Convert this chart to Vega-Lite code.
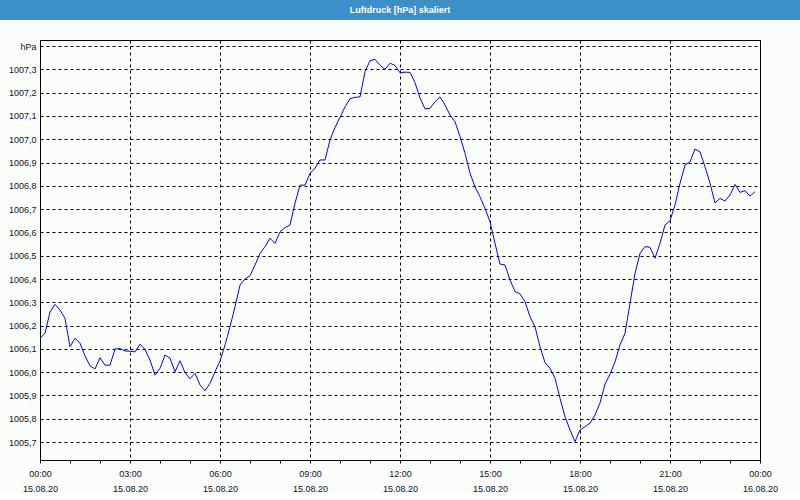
{
  "$schema": "https://vega.github.io/schema/vega-lite/v6.json",
  "background": "#fbfdfb",
  "padding": 0,
  "autosize": {"type": "pad"},
  "columns": 1,
  "spacing": 20,
  "config": {
    "font": "Liberation Sans",
    "view": {"stroke": null}
  },
  "datasets": {
    "druck": [
      {"t": "2020-08-15T00:00", "p": 1006.146},
      {"t": "2020-08-15T00:10", "p": 1006.167},
      {"t": "2020-08-15T00:20", "p": 1006.258},
      {"t": "2020-08-15T00:30", "p": 1006.291},
      {"t": "2020-08-15T00:40", "p": 1006.267},
      {"t": "2020-08-15T00:50", "p": 1006.231},
      {"t": "2020-08-15T01:00", "p": 1006.109},
      {"t": "2020-08-15T01:10", "p": 1006.146},
      {"t": "2020-08-15T01:20", "p": 1006.124},
      {"t": "2020-08-15T01:30", "p": 1006.070},
      {"t": "2020-08-15T01:40", "p": 1006.027},
      {"t": "2020-08-15T01:50", "p": 1006.014},
      {"t": "2020-08-15T02:00", "p": 1006.062},
      {"t": "2020-08-15T02:10", "p": 1006.030},
      {"t": "2020-08-15T02:20", "p": 1006.030},
      {"t": "2020-08-15T02:30", "p": 1006.100},
      {"t": "2020-08-15T02:40", "p": 1006.101},
      {"t": "2020-08-15T02:50", "p": 1006.091},
      {"t": "2020-08-15T03:00", "p": 1006.090},
      {"t": "2020-08-15T03:10", "p": 1006.087},
      {"t": "2020-08-15T03:20", "p": 1006.120},
      {"t": "2020-08-15T03:30", "p": 1006.098},
      {"t": "2020-08-15T03:40", "p": 1006.052},
      {"t": "2020-08-15T03:50", "p": 1005.988},
      {"t": "2020-08-15T04:00", "p": 1006.017},
      {"t": "2020-08-15T04:10", "p": 1006.074},
      {"t": "2020-08-15T04:20", "p": 1006.060},
      {"t": "2020-08-15T04:30", "p": 1006.002},
      {"t": "2020-08-15T04:40", "p": 1006.049},
      {"t": "2020-08-15T04:50", "p": 1005.998},
      {"t": "2020-08-15T05:00", "p": 1005.972},
      {"t": "2020-08-15T05:10", "p": 1005.995},
      {"t": "2020-08-15T05:20", "p": 1005.945},
      {"t": "2020-08-15T05:30", "p": 1005.921},
      {"t": "2020-08-15T05:40", "p": 1005.952},
      {"t": "2020-08-15T05:50", "p": 1006.002},
      {"t": "2020-08-15T06:00", "p": 1006.048},
      {"t": "2020-08-15T06:10", "p": 1006.117},
      {"t": "2020-08-15T06:20", "p": 1006.195},
      {"t": "2020-08-15T06:30", "p": 1006.281},
      {"t": "2020-08-15T06:40", "p": 1006.374},
      {"t": "2020-08-15T06:50", "p": 1006.400},
      {"t": "2020-08-15T07:00", "p": 1006.414},
      {"t": "2020-08-15T07:10", "p": 1006.460},
      {"t": "2020-08-15T07:20", "p": 1006.510},
      {"t": "2020-08-15T07:30", "p": 1006.539},
      {"t": "2020-08-15T07:40", "p": 1006.575},
      {"t": "2020-08-15T07:50", "p": 1006.553},
      {"t": "2020-08-15T08:00", "p": 1006.603},
      {"t": "2020-08-15T08:10", "p": 1006.620},
      {"t": "2020-08-15T08:20", "p": 1006.632},
      {"t": "2020-08-15T08:30", "p": 1006.725},
      {"t": "2020-08-15T08:40", "p": 1006.803},
      {"t": "2020-08-15T08:50", "p": 1006.803},
      {"t": "2020-08-15T09:00", "p": 1006.854},
      {"t": "2020-08-15T09:10", "p": 1006.875},
      {"t": "2020-08-15T09:20", "p": 1006.911},
      {"t": "2020-08-15T09:30", "p": 1006.911},
      {"t": "2020-08-15T09:40", "p": 1006.997},
      {"t": "2020-08-15T09:50", "p": 1007.051},
      {"t": "2020-08-15T10:00", "p": 1007.094},
      {"t": "2020-08-15T10:10", "p": 1007.139},
      {"t": "2020-08-15T10:20", "p": 1007.174},
      {"t": "2020-08-15T10:30", "p": 1007.180},
      {"t": "2020-08-15T10:40", "p": 1007.182},
      {"t": "2020-08-15T10:50", "p": 1007.290},
      {"t": "2020-08-15T11:00", "p": 1007.337},
      {"t": "2020-08-15T11:10", "p": 1007.343},
      {"t": "2020-08-15T11:20", "p": 1007.318},
      {"t": "2020-08-15T11:30", "p": 1007.300},
      {"t": "2020-08-15T11:40", "p": 1007.326},
      {"t": "2020-08-15T11:50", "p": 1007.317},
      {"t": "2020-08-15T12:00", "p": 1007.285},
      {"t": "2020-08-15T12:10", "p": 1007.288},
      {"t": "2020-08-15T12:20", "p": 1007.287},
      {"t": "2020-08-15T12:30", "p": 1007.243},
      {"t": "2020-08-15T12:40", "p": 1007.177},
      {"t": "2020-08-15T12:50", "p": 1007.130},
      {"t": "2020-08-15T13:00", "p": 1007.133},
      {"t": "2020-08-15T13:10", "p": 1007.161},
      {"t": "2020-08-15T13:20", "p": 1007.182},
      {"t": "2020-08-15T13:30", "p": 1007.147},
      {"t": "2020-08-15T13:40", "p": 1007.104},
      {"t": "2020-08-15T13:50", "p": 1007.075},
      {"t": "2020-08-15T14:00", "p": 1007.011},
      {"t": "2020-08-15T14:10", "p": 1006.940},
      {"t": "2020-08-15T14:20", "p": 1006.854},
      {"t": "2020-08-15T14:30", "p": 1006.796},
      {"t": "2020-08-15T14:40", "p": 1006.753},
      {"t": "2020-08-15T14:50", "p": 1006.703},
      {"t": "2020-08-15T15:00", "p": 1006.646},
      {"t": "2020-08-15T15:10", "p": 1006.553},
      {"t": "2020-08-15T15:20", "p": 1006.464},
      {"t": "2020-08-15T15:30", "p": 1006.460},
      {"t": "2020-08-15T15:40", "p": 1006.396},
      {"t": "2020-08-15T15:50", "p": 1006.346},
      {"t": "2020-08-15T16:00", "p": 1006.336},
      {"t": "2020-08-15T16:10", "p": 1006.303},
      {"t": "2020-08-15T16:20", "p": 1006.238},
      {"t": "2020-08-15T16:30", "p": 1006.195},
      {"t": "2020-08-15T16:40", "p": 1006.109},
      {"t": "2020-08-15T16:50", "p": 1006.041},
      {"t": "2020-08-15T17:00", "p": 1006.017},
      {"t": "2020-08-15T17:10", "p": 1005.974},
      {"t": "2020-08-15T17:20", "p": 1005.888},
      {"t": "2020-08-15T17:30", "p": 1005.809},
      {"t": "2020-08-15T17:40", "p": 1005.752},
      {"t": "2020-08-15T17:50", "p": 1005.702},
      {"t": "2020-08-15T18:00", "p": 1005.752},
      {"t": "2020-08-15T18:10", "p": 1005.766},
      {"t": "2020-08-15T18:20", "p": 1005.781},
      {"t": "2020-08-15T18:30", "p": 1005.816},
      {"t": "2020-08-15T18:40", "p": 1005.868},
      {"t": "2020-08-15T18:50", "p": 1005.949},
      {"t": "2020-08-15T19:00", "p": 1005.992},
      {"t": "2020-08-15T19:10", "p": 1006.044},
      {"t": "2020-08-15T19:20", "p": 1006.117},
      {"t": "2020-08-15T19:30", "p": 1006.167},
      {"t": "2020-08-15T19:40", "p": 1006.296},
      {"t": "2020-08-15T19:50", "p": 1006.424},
      {"t": "2020-08-15T20:00", "p": 1006.510},
      {"t": "2020-08-15T20:10", "p": 1006.539},
      {"t": "2020-08-15T20:20", "p": 1006.536},
      {"t": "2020-08-15T20:30", "p": 1006.489},
      {"t": "2020-08-15T20:40", "p": 1006.553},
      {"t": "2020-08-15T20:50", "p": 1006.632},
      {"t": "2020-08-15T21:00", "p": 1006.650},
      {"t": "2020-08-15T21:10", "p": 1006.718},
      {"t": "2020-08-15T21:20", "p": 1006.811},
      {"t": "2020-08-15T21:30", "p": 1006.889},
      {"t": "2020-08-15T21:40", "p": 1006.903},
      {"t": "2020-08-15T21:50", "p": 1006.958},
      {"t": "2020-08-15T22:00", "p": 1006.946},
      {"t": "2020-08-15T22:10", "p": 1006.882},
      {"t": "2020-08-15T22:20", "p": 1006.811},
      {"t": "2020-08-15T22:30", "p": 1006.727},
      {"t": "2020-08-15T22:40", "p": 1006.746},
      {"t": "2020-08-15T22:50", "p": 1006.735},
      {"t": "2020-08-15T23:00", "p": 1006.761},
      {"t": "2020-08-15T23:10", "p": 1006.806},
      {"t": "2020-08-15T23:20", "p": 1006.772},
      {"t": "2020-08-15T23:30", "p": 1006.779},
      {"t": "2020-08-15T23:40", "p": 1006.756},
      {"t": "2020-08-15T23:50", "p": 1006.775}
    ]
  },
  "concat": [
    {
      "width": 800,
      "height": 20,
      "view": {"fill": "#3d8fc7", "stroke": null},
      "data": {"values": [{"title": "Luftdruck [hPa] skaliert"}]},
      "mark": {"type": "text", "color": "white", "font": "Liberation Sans", "fontSize": 9, "fontWeight": "bold"},
      "encoding": {"text": {"field": "title"}}
    },
    {
      "width": 760,
      "height": 420,
      "view": {"stroke": null, "fill": "#fbfdfb"},
      "data": {"name": "druck"},
      "layer": [
        {
          "mark": {"type": "line", "color": "#0000ff", "strokeWidth": 1},
          "encoding": {
            "x": {
              "field": "t",
              "type": "temporal",
              "scale": {"domain": [{"year": 2020, "month": 8, "date": 15, "hours": 0}, {"year": 2020, "month": 8, "date": 16, "hours": 0}], "nice": false, "range": [40, 760]},
              "axis": {
                "title": null,
                "values": [
                  {"year": 2020, "month": 8, "date": 15, "hours": 0},
                  {"year": 2020, "month": 8, "date": 15, "hours": 1},
                  {"year": 2020, "month": 8, "date": 15, "hours": 2},
                  {"year": 2020, "month": 8, "date": 15, "hours": 3},
                  {"year": 2020, "month": 8, "date": 15, "hours": 4},
                  {"year": 2020, "month": 8, "date": 15, "hours": 5},
                  {"year": 2020, "month": 8, "date": 15, "hours": 6},
                  {"year": 2020, "month": 8, "date": 15, "hours": 7},
                  {"year": 2020, "month": 8, "date": 15, "hours": 8},
                  {"year": 2020, "month": 8, "date": 15, "hours": 9},
                  {"year": 2020, "month": 8, "date": 15, "hours": 10},
                  {"year": 2020, "month": 8, "date": 15, "hours": 11},
                  {"year": 2020, "month": 8, "date": 15, "hours": 12},
                  {"year": 2020, "month": 8, "date": 15, "hours": 13},
                  {"year": 2020, "month": 8, "date": 15, "hours": 14},
                  {"year": 2020, "month": 8, "date": 15, "hours": 15},
                  {"year": 2020, "month": 8, "date": 15, "hours": 16},
                  {"year": 2020, "month": 8, "date": 15, "hours": 17},
                  {"year": 2020, "month": 8, "date": 15, "hours": 18},
                  {"year": 2020, "month": 8, "date": 15, "hours": 19},
                  {"year": 2020, "month": 8, "date": 15, "hours": 20},
                  {"year": 2020, "month": 8, "date": 15, "hours": 21},
                  {"year": 2020, "month": 8, "date": 15, "hours": 22},
                  {"year": 2020, "month": 8, "date": 15, "hours": 23},
                  {"year": 2020, "month": 8, "date": 16, "hours": 0}
                ],
                "labelExpr": "hours(datum.value) % 3 == 0 ? [timeFormat(datum.value, '%H:%M'), timeFormat(datum.value, '%d.%m.%y')] : ''",
                "labelFlush": false,
                "labelOverlap": false,
                "labelFont": "Liberation Sans",
                "labelFontSize": 9,
                "labelColor": "#101028",
                "labelPadding": 6,
                "labelBaseline": "top",
                "labelLineHeight": 15,
                "grid": true,
                "gridColor": "black",
                "gridDash": [3, 3],
                "gridWidth": 1,
                "gridOpacity": {"condition": {"test": "hours(datum.value) % 3 === 0", "value": 1}, "value": 0},
                "ticks": true,
                "tickSize": 3,
                "tickColor": "black",
                "domainColor": "black",
                "domainWidth": 1
              }
            },
            "y": {
              "field": "p",
              "type": "quantitative",
              "scale": {"domain": [1005.623, 1007.426], "nice": false, "zero": false},
              "axis": {
                "title": null,
                "offset": -40,
                "values": [1005.7, 1005.8, 1005.9, 1006.0, 1006.1, 1006.2, 1006.3, 1006.4, 1006.5, 1006.6, 1006.7, 1006.8, 1006.9, 1007.0, 1007.1, 1007.2, 1007.3, 1007.4],
                "labelExpr": "datum.value > 1007.35 ? 'hPa' : replace(format(datum.value, '.1f'), '.', ',')",
                "labelFont": "Liberation Sans",
                "labelFontSize": 9,
                "labelColor": "#101028",
                "labelPadding": 4,
                "labelOverlap": false,
                "grid": true,
                "gridColor": "black",
                "gridDash": [3, 3],
                "gridWidth": 1,
                "gridOpacity": 1,
                "ticks": false,
                "domainColor": "black",
                "domainWidth": 1
              }
            }
          }
        },
        {
          "mark": {"type": "line", "strokeOpacity": 0},
          "encoding": {
            "x": {
              "field": "t",
              "type": "temporal",
              "axis": {
                "orient": "top",
                "title": null,
                "labels": false,
                "ticks": false,
                "grid": false,
                "domain": true,
                "domainColor": "black",
                "domainWidth": 1
              }
            },
            "y": {
              "field": "p",
              "type": "quantitative",
              "axis": {
                "orient": "right",
                "title": null,
                "labels": false,
                "ticks": false,
                "grid": false,
                "domain": true,
                "domainColor": "black",
                "domainWidth": 1
              }
            }
          }
        }
      ],
      "resolve": {"axis": {"x": "independent", "y": "independent"}}
    }
  ]
}
